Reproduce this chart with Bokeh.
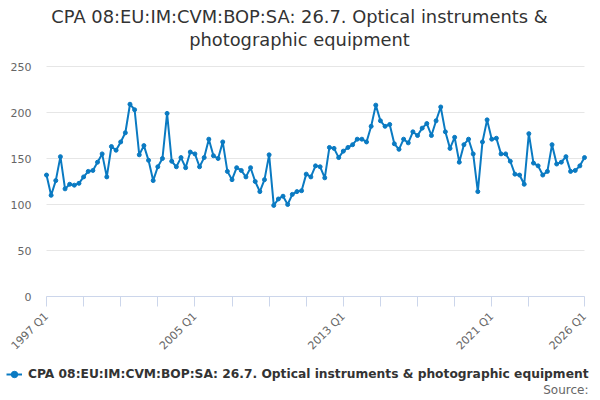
from math import pi
from bokeh.plotting import figure
from bokeh.models import Range1d, FixedTicker, Legend, LegendItem, Label, ColumnDataSource
from bokeh.embed import file_html
from bokeh.resources import INLINE

# Series: quarterly index, 1997 Q1 .. 2026 Q1
title_lines = ["CPA 08:EU:IM:CVM:BOP:SA: 26.7. Optical instruments &",
               "photographic equipment"]
series_name = "CPA 08:EU:IM:CVM:BOP:SA: 26.7. Optical instruments & photographic equipment"
quarters = [f"{y} Q{q}" for y in range(1997, 2027) for q in (1, 2, 3, 4)][:117]
values = [
    132, 110, 126, 152, 117, 122, 121, 123, 130, 136,
    137, 146, 155, 130, 163, 159, 168, 178, 209, 203,
    154, 164, 148, 126, 141, 150, 199, 147, 141, 151,
    140, 157, 155, 141, 151, 171, 153, 150, 168, 136,
    127, 140, 137, 130, 140, 125, 114, 127, 154, 99,
    106, 109, 100, 111, 114, 115, 133, 130, 142, 141,
    129, 162, 161, 151, 158, 162, 165, 171, 171, 168,
    185, 208, 191, 185, 187, 166, 160, 171, 167, 179,
    175, 183, 188, 175, 191, 206, 179, 161, 173, 146,
    165, 171, 155, 114, 168, 192, 171, 172, 155, 155,
    147, 133, 132, 122, 177, 145, 142, 132, 136, 165,
    144, 146, 152, 136, 137, 142, 151,
]
x_ticks = [0, 8, 16, 24, 32, 40, 48, 56, 64, 72, 80, 88, 96, 104, 116]
x_labelled = ["1997 Q1", "2005 Q1", "2013 Q1", "2021 Q1", "2026 Q1"]
y_ticks = [0, 50, 100, 150, 200, 250]
y_max = 250

blue = "#0a7ac2"
font = "DejaVu Sans"
n = len(values)

# The frame covers the whole figure, so that titles, legend and source note
# (all outside the data area) are not clipped. The data area is placed with the ranges.
fig_w, fig_h = 592, 396
data_left, data_right, data_top, data_bottom = 46, 584, 66, 296
xs = (data_right - data_left) / (n - 1)
ys = (data_bottom - data_top) / y_max


def px_to_x(px):
    return (px - data_left) / xs


def px_to_y(py):
    return (data_bottom - py) / ys


source = ColumnDataSource(data=dict(x=list(range(n)), y=values, q=quarters))

p = figure(width=fig_w, height=fig_h,
           x_range=Range1d(px_to_x(0), px_to_x(fig_w)),
           y_range=Range1d(px_to_y(fig_h), px_to_y(0)),
           output_backend="svg", toolbar_location=None,
           min_border_left=0, min_border_right=0, min_border_top=0, min_border_bottom=0)

p.outline_line_color = None
p.grid.visible = False

for text, py in zip(title_lines, (16, 39)):
    p.add_layout(Label(x=px_to_x(299), y=px_to_y(py), text=text, text_align="center",
                       text_baseline="middle", text_font=font, text_font_size="17.85px",
                       text_color="#333333"))

# horizontal grid lines over the data area only
p.segment(x0=0, x1=n - 1, y0=y_ticks, y1=y_ticks, line_color="#e6e6e6", line_width=1)

line_r = p.line("x", "y", source=source, line_color=blue, line_width=2)
dots_r = p.scatter("x", "y", source=source, size=4, fill_color=blue, line_color=blue)

p.yaxis.fixed_location = 0
p.yaxis.bounds = (0, y_max)
p.yaxis.ticker = FixedTicker(ticks=y_ticks)
p.yaxis.axis_line_color = None
p.yaxis.major_tick_line_color = None
p.yaxis.minor_tick_line_color = None
p.yaxis.major_tick_out = 0
p.yaxis.major_label_standoff = 15
p.yaxis.major_label_text_font = font
p.yaxis.major_label_text_font_size = "11px"
p.yaxis.major_label_text_color = "#666666"

overrides = {t: "" for t in x_ticks}
for t in x_ticks:
    if quarters[t] in x_labelled:
        overrides[t] = quarters[t]
p.xaxis.fixed_location = 0
p.xaxis.bounds = (0, n - 1)
p.xaxis.ticker = FixedTicker(ticks=x_ticks)
p.xaxis.major_label_overrides = overrides
p.xaxis.major_label_orientation = pi / 4
p.xaxis.axis_line_color = "#ccd6eb"
p.xaxis.major_tick_line_color = "#ccd6eb"
p.xaxis.minor_tick_line_color = None
p.xaxis.major_tick_out = 10
p.xaxis.major_tick_in = 0
p.xaxis.major_label_standoff = 8
p.xaxis.major_label_text_font = font
p.xaxis.major_label_text_font_size = "11px"
p.xaxis.major_label_text_color = "#666666"

legend = Legend(items=[LegendItem(label=series_name, renderers=[line_r, dots_r])],
                location=(6, 12), orientation="horizontal",
                border_line_color=None, background_fill_alpha=0,
                label_text_font=font, label_text_font_style="bold",
                label_text_font_size="12.25px", label_text_color="#333333",
                glyph_width=16, label_standoff=6, padding=0, margin=0, spacing=0)
p.add_layout(legend)

p.add_layout(Label(x=n - 1, y=px_to_y(389), text="Source:", text_align="right",
                   text_baseline="middle", x_offset=4, text_font=font,
                   text_font_size="12px", text_color="#666666"))

open("out.html", "w").write(file_html(p, INLINE))
